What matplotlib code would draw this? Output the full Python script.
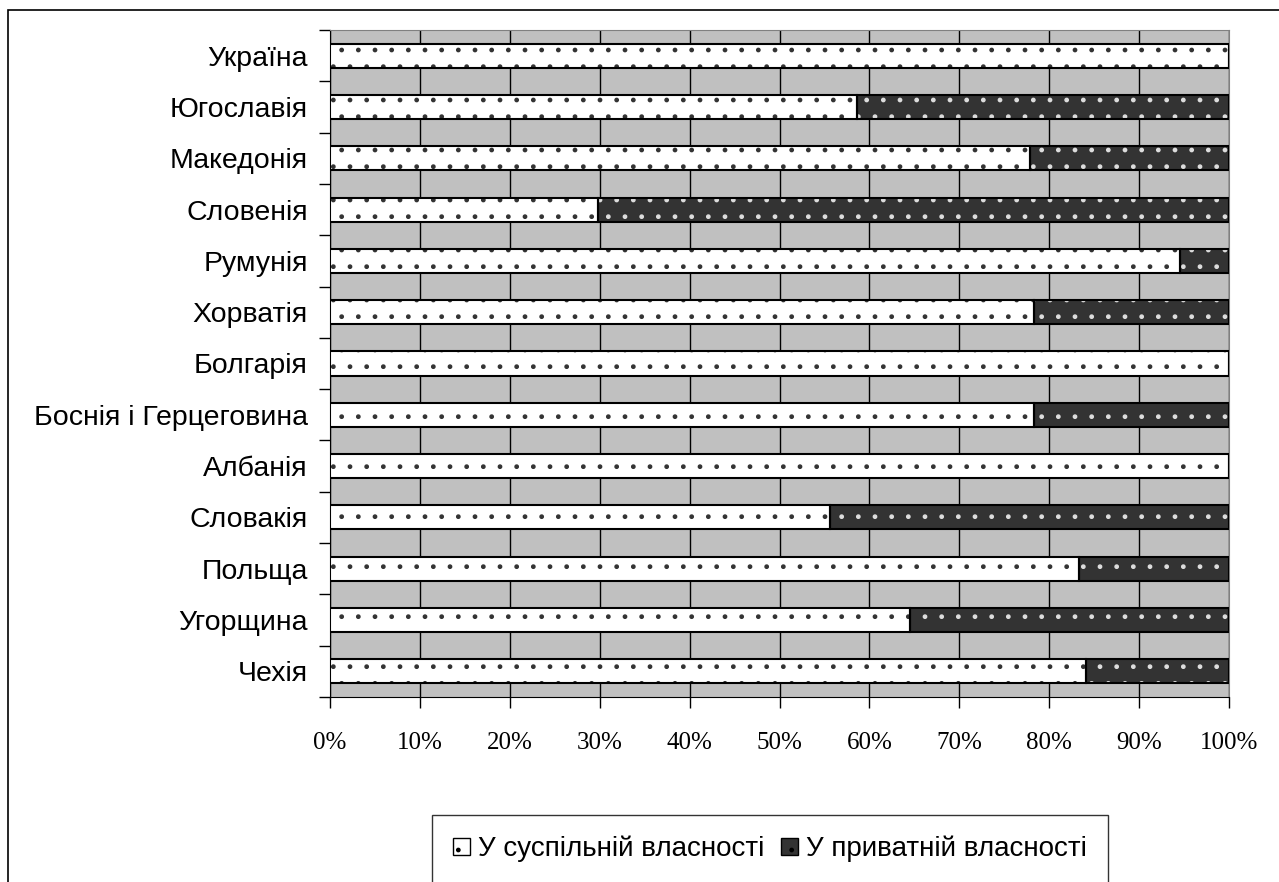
import numpy as np
import matplotlib.pyplot as plt
from matplotlib.patches import Rectangle, Patch

# countries from bottom to top
countries = ['Чехія', 'Угорщина', 'Польща', 'Словакія', 'Албанія',
             'Боснія і Герцеговина', 'Болгарія', 'Хорватія', 'Румунія',
             'Словенія', 'Македонія', 'Югославія', 'Україна']
public = [84.1, 64.5, 83.3, 55.6, 100, 78.3, 100, 78.3, 94.5, 29.8, 77.9, 58.6, 100]
private = [100 - v for v in public]

plt.rcParams['hatch.linewidth'] = 1.0

fig = plt.figure(figsize=(12.79, 8.82), dpi=100)
ax = fig.add_axes([330/1279, 1 - 697/882, 899/1279, 667/882])
ax.set_facecolor('#c0c0c0')

y = np.arange(len(countries))
h = 0.47
# hatch fills
ax.barh(y, public, height=h, color='white', edgecolor='#333333', hatch='.', linewidth=0, zorder=3)
ax.barh(y, private, left=public, height=h, color='#333333', edgecolor='#dddddd', hatch='.', linewidth=0, zorder=3)
# outlines
ax.barh(y, public, height=h, fill=False, edgecolor='black', linewidth=1.5, zorder=4)
ax.barh(y, private, left=public, height=h, fill=False, edgecolor='black', linewidth=1.5, zorder=4)

ax.set_xlim(0, 100)
ax.set_ylim(-0.5, len(countries) - 0.5)
ax.set_xticks(np.arange(0, 101, 10))
ax.set_xticklabels([f'{v}%' for v in range(0, 101, 10)], family='Liberation Serif', fontsize=18)
ax.xaxis.grid(True, color='black', linewidth=1)
ax.set_axisbelow(True)

ax.set_yticks(y)
ax.set_yticklabels(countries, family='Liberation Sans', fontsize=20.5)
ax.set_yticks(np.arange(-0.5, len(countries), 1), minor=True)
ax.tick_params(axis='y', which='major', length=0, pad=16)
ax.tick_params(axis='y', which='minor', length=8, width=1, direction='out')
ax.tick_params(axis='x', length=8, width=1, direction='out', pad=17)

for s in ['top', 'right']:
    ax.spines[s].set_color('#808080')
for s in ['left', 'bottom']:
    ax.spines[s].set_color('black')

# legend
handles = [Patch(facecolor='white', edgecolor='black', hatch='.', label='У суспільній власності'),
           Patch(facecolor='#333333', edgecolor='black', hatch='.', label='У приватній власності')]
leg = ax.legend(handles=handles, loc='upper left', bbox_to_anchor=(432/1279, 1 - 815/882),
                bbox_transform=fig.transFigure, ncol=2, frameon=True, fancybox=False,
                prop={'family': 'Liberation Sans', 'size': 20}, handlelength=0.6, handleheight=0.6,
                handletextpad=0.3, columnspacing=0.6, borderpad=0.75, borderaxespad=0)
leg.get_frame().set_edgecolor('black')
leg.get_frame().set_linewidth(1)

# outer chart frame
fig.patches.append(Rectangle((8/1279, -0.1), 1.2, 1 - 10/882 + 0.1, transform=fig.transFigure,
                             fill=False, edgecolor='black', linewidth=1.2))

fig.savefig('out.png', dpi=100)
